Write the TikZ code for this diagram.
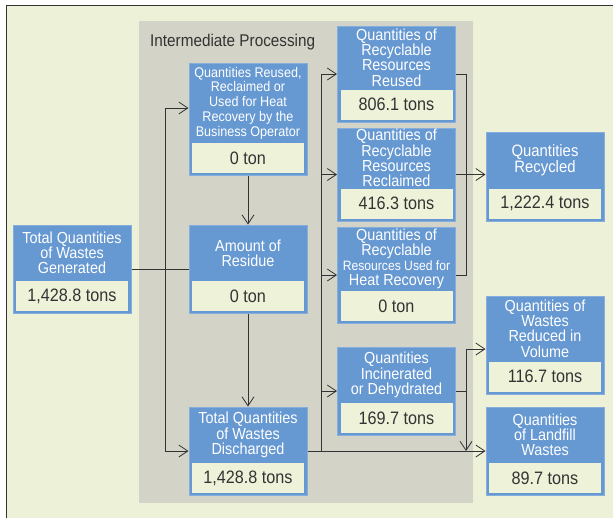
\documentclass[tikz,border=0pt]{standalone}
\usepackage{fontspec}
\setmainfont{Liberation Sans}[FakeStretch=0.9]
\usetikzlibrary{arrows.meta}
\definecolor{bgc}{HTML}{ECF1D8}
\definecolor{grayc}{HTML}{D3D4C7}
\definecolor{boxc}{HTML}{6698D2}
\definecolor{edgec}{HTML}{86AEDD}
\definecolor{valc}{HTML}{EDF2D9}
\definecolor{linec}{HTML}{333333}
\begin{document}
\begin{tikzpicture}[x=1pt, y=-1pt,
    blk/.style={rectangle, fill=boxc, draw=edgec, line width=1pt, minimum width=118pt, inner sep=0pt},
    ttl/.style={align=center, text=white, font=\fontsize{16}{15.2}\selectfont, inner sep=0pt},
    val/.style={rectangle, fill=valc, minimum width=112pt, minimum height=30pt, inner sep=0pt,
      text=linec, font=\fontsize{18}{18}\selectfont},
    link/.style={draw=linec, line width=0.8pt},
    flow/.style={link, -{Straight Barb[length=9pt,width=12pt]}}]
    \useasboundingbox (0,0) rectangle (613,517);

    % 背景
    \fill[white] (0,0) rectangle (613,517);
    \draw[fill=bgc, draw=linec, line width=1pt] (6,5) rectangle (640,540);
    \fill[grayc] (139,21) rectangle (473,503);
    \node[anchor=west, inner sep=0pt, text=linec, font=\fontsize{17}{18}\selectfont] (ip) at (150,42) {Intermediate Processing};

    % 箱を置く
    \node[blk, minimum height=88pt] (gen) at (72,269) {};
    \node[blk, minimum height=112pt] (opr) at (248,119) {};
    \node[blk, minimum height=88pt] (res) at (248,269) {};
    \node[blk, minimum height=88pt] (dis) at (248,451) {};
    \node[blk, minimum height=96pt] (reu) at (396.5,74) {};
    \node[blk, minimum height=93pt] (rec) at (396.5,174.5) {};
    \node[blk, minimum height=96pt] (hea) at (396.5,275) {};
    \node[blk, minimum height=88pt] (inc) at (396.5,391) {};
    \node[blk, minimum height=89pt] (rcy) at (545,176.5) {};
    \node[blk, minimum height=98pt] (red) at (545,345) {};
    \node[blk, minimum height=88pt] (lan) at (545,451) {};

    % 名前を入れる
    \node[ttl] (gen-t) at (72,253) {Total Quantities\\of Wastes\\Generated};
    \node[ttl, font=\fontsize{14}{14.8}\selectfont] (opr-t) at (248,103) {Quantities Reused,\\Reclaimed or\\Used for Heat\\Recovery by the\\Business Operator};
    \node[ttl] (res-t) at (248,253) {Amount of\\Residue};
    \node[ttl] (dis-t) at (248,435) {Total Quantities\\of Wastes\\Discharged};
    \node[ttl] (reu-t) at (396.5,57.5) {Quantities of\\Recyclable\\Resources\\Reused};
    \node[ttl] (rec-t) at (396.5,158) {Quantities of\\Recyclable\\Resources\\Reclaimed};
    \node[ttl] (hea-t) at (396.5,259) {Quantities of\\Recyclable\\{\fontsize{13.5}{15.2}\selectfont Resources Used for}\\Heat Recovery};
    \node[ttl] (inc-t) at (396.5,375) {Quantities\\Incinerated\\or Dehydrated};
    \node[ttl, font=\fontsize{16.5}{16.5}\selectfont] (rcy-t) at (545,160) {Quantities\\Recycled};
    \node[ttl] (red-t) at (545,328.5) {Quantities of\\Wastes\\Reduced in\\Volume};
    \node[ttl] (lan-t) at (545,435) {Quantities\\of Landfill\\Wastes};

    % 値を入れる
    \node[val] (gen-v) at (72,296) {1,428.8 tons};
    \node[val] (opr-v) at (248,158) {0 ton};
    \node[val] (res-v) at (248,296) {0 ton};
    \node[val] (dis-v) at (248,478) {1,428.8 tons};
    \node[val] (reu-v) at (396.5,104.5) {806.1 tons};
    \node[val] (rec-v) at (396.5,203.5) {416.3 tons};
    \node[val] (hea-v) at (396.5,306) {0 ton};
    \node[val] (inc-v) at (396.5,418) {169.7 tons};
    \node[val] (rcy-v) at (545,203.5) {1,222.4 tons};
    \node[val] (red-v) at (545,376.5) {116.7 tons};
    \node[val] (lan-v) at (545,478) {89.7 tons};

    % 線を引く
    \coordinate (jl) at (165,269);
    \coordinate (jm) at (321,451);
    \coordinate (jr) at (466,74);
    \coordinate (ji) at (466,349);
    \draw[link] (gen.east) -- (res.west);
    \draw[flow] (jl) |- ([yshift=11pt]opr.west);
    \draw[flow] (jl) |- (dis.west);
    \draw[flow] (opr.south) -- (res.north);
    \draw[flow] (res.south) -- (dis.north);
    \draw[flow] (dis.east) -- (lan.west);
    \draw[flow] (jm) |- (reu.west);
    \draw[flow] (jm) |- (rec.west);
    \draw[flow] (jm) |- (hea.west);
    \draw[flow] (jm) |- (inc.west);
    \draw[link] (reu.east) -- (jr) |- (hea.east);
    \draw[flow] (rec.east) -- (rec.east -| rcy.west);
    \draw[link] (inc.east) -- (inc.east -| ji);
    \draw[flow] (ji) -- (ji -| red.west);
    \draw[flow] (ji) -- (ji |- lan.west);
\end{tikzpicture}
\end{document}
